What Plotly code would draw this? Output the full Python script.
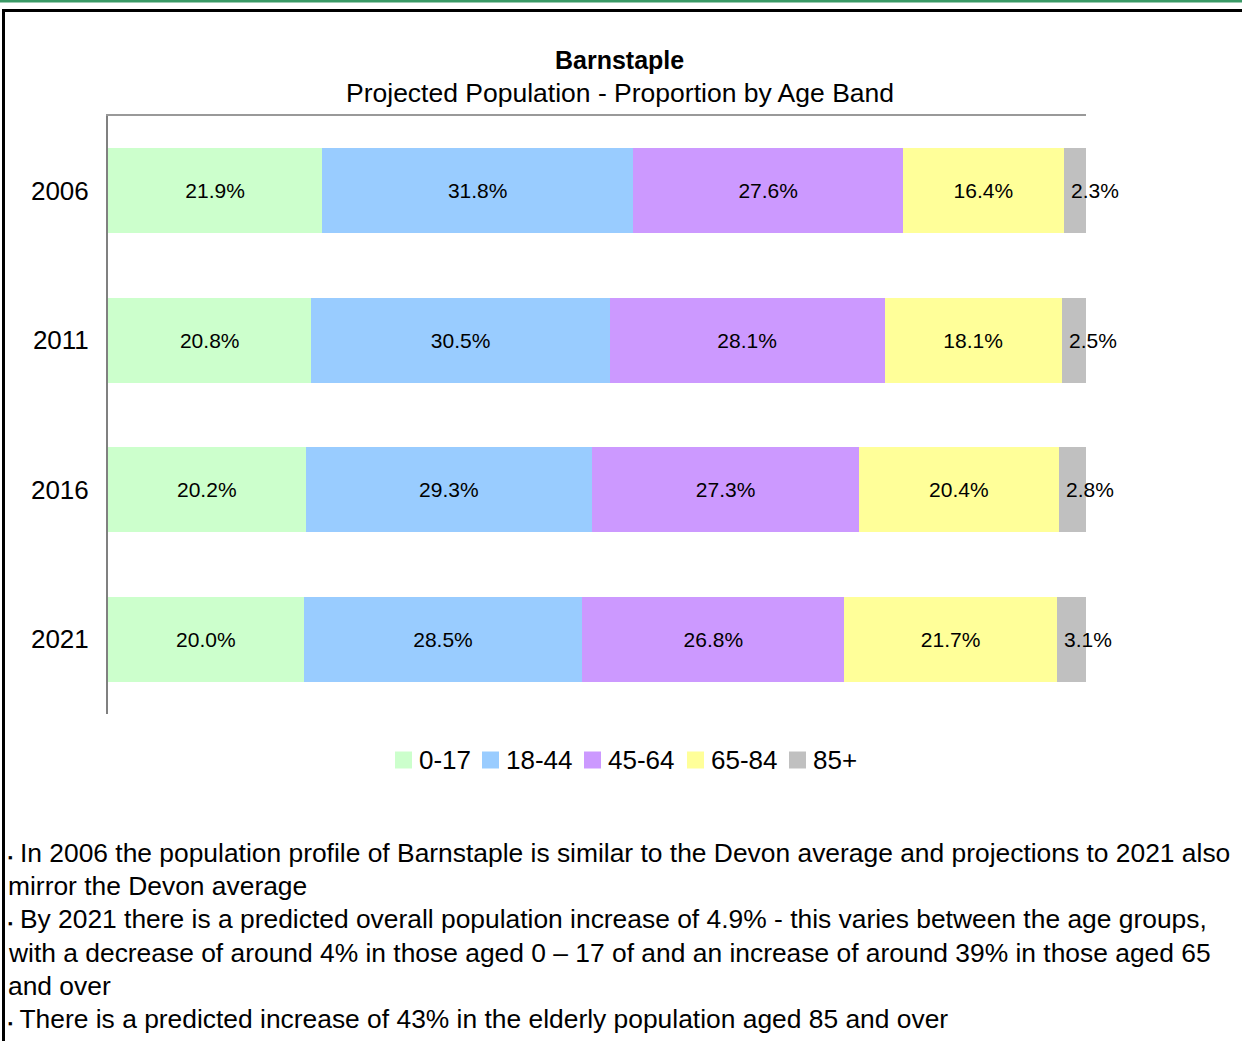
import plotly.graph_objects as go

years = ["2006", "2011", "2016", "2021"]
bands = ["0-17", "18-44", "45-64", "65-84", "85+"]
values = {
    "0-17": [21.9, 20.8, 20.2, 20.0],
    "18-44": [31.8, 30.5, 29.3, 28.5],
    "45-64": [27.6, 28.1, 27.3, 26.8],
    "65-84": [16.4, 18.1, 20.4, 21.7],
    "85+": [2.3, 2.5, 2.8, 3.1],
}
colors = ["#CCFFCC", "#99CCFF", "#CC99FF", "#FFFF99", "#C0C0C0"]
title = "Barnstaple"
subtitle = "Projected Population - Proportion by Age Band"
bullet = "<span style='font-size:13px'>▪</span>"
notes = [
    bullet + " In 2006 the population profile of Barnstaple is similar to the Devon average and projections to 2021 also",
    "mirror the Devon average",
    bullet + " By 2021 there is a predicted overall population increase of 4.9% - this varies between the age groups,",
    "with a decrease of around 4% in those aged 0 – 17 of and an increase of around 39% in those aged 65",
    "and over",
    bullet + " There is a predicted increase of 43% in the elderly population aged 85 and over",
]

# layout constants (pixels in the 1242x1041 page)
W, H = 1242, 1041
L, R, T, B = 108, 1086, 116, 714
FONT = "Liberation Sans, Arial, sans-serif"
LEGEND_SWATCH_X = [395, 482, 584, 687, 789]
LEGEND_Y = 760
SWATCH = 17
NOTE_Y = [853, 886, 919, 953, 986, 1019]


def px(x):
    return (x - L) / (R - L)


def py(y):
    return (B - y) / (B - T)


fig = go.Figure()
for band, col in zip(bands, colors):
    last = band == "85+"
    fig.add_trace(go.Bar(
        y=years, x=values[band], name=band, orientation="h",
        marker=dict(color=col, line=dict(width=0)),
        text=None if last else [f"{v:.1f}%" for v in values[band]],
        textposition="none" if last else "inside",
        insidetextanchor="middle",
        textfont=dict(family=FONT, size=21, color="black"),
        constraintext="none",
        hoverinfo="x+name",
        showlegend=False,
    ))

annotations = []
shapes = []
# labels for the small 85+ segment
for i, yr in enumerate(years):
    start = sum(values[b][i] for b in bands[:-1])
    annotations.append(dict(
        x=start, y=i, xref="x", yref="y", text=f"{values['85+'][i]:.1f}%",
        showarrow=False, xanchor="left", xshift=5,
        font=dict(family=FONT, size=21, color="black"),
    ))

annotations.append(dict(x=px(619), y=py(60), xref="paper", yref="paper", text=f"<b>{title}</b>",
                        showarrow=False, xanchor="center", yanchor="middle",
                        font=dict(family=FONT, size=25, color="black")))
annotations.append(dict(x=px(620), y=py(93), xref="paper", yref="paper", text=subtitle,
                        showarrow=False, xanchor="center", yanchor="middle",
                        font=dict(family=FONT, size=26.5, color="black")))

for t, yy in zip(notes, NOTE_Y):
    annotations.append(dict(x=px(6), y=py(yy), xref="paper", yref="paper", text=t,
                            showarrow=False, xanchor="left", yanchor="middle",
                            font=dict(family=FONT, size=26.4, color="black")))

# custom legend
for band, col, sx in zip(bands, colors, LEGEND_SWATCH_X):
    shapes.append(dict(type="rect", xref="paper", yref="paper",
                       x0=px(sx), x1=px(sx + SWATCH),
                       y0=py(LEGEND_Y - SWATCH / 2), y1=py(LEGEND_Y + SWATCH / 2),
                       fillcolor=col, line=dict(width=0)))
    annotations.append(dict(x=px(sx + SWATCH + 5), y=py(LEGEND_Y), xref="paper", yref="paper",
                            text=band, showarrow=False, xanchor="left", yanchor="middle",
                            font=dict(family=FONT, size=26, color="black")))

shapes += [
    dict(type="rect", xref="paper", yref="paper", x0=px(0), x1=px(W), y0=py(0), y1=py(2.5),
         fillcolor="#3A9A66", line=dict(width=0), layer="above"),
    dict(type="rect", xref="paper", yref="paper", x0=px(2), x1=px(W), y0=py(9), y1=py(12),
         fillcolor="black", line=dict(width=0), layer="above"),
    dict(type="rect", xref="paper", yref="paper", x0=px(2), x1=px(5), y0=py(9), y1=py(H),
         fillcolor="black", line=dict(width=0), layer="above"),
]

fig.update_layout(
    width=W, height=H,
    margin=dict(l=L, r=W - R, t=T, b=H - B, pad=0),
    paper_bgcolor="white", plot_bgcolor="white",
    barmode="stack", bargap=0.43,
    showlegend=False,
    xaxis=dict(range=[0, 100], side="top", showline=True, linecolor="#999999", linewidth=2,
               showgrid=False, zeroline=False, showticklabels=False, ticks="", fixedrange=True),
    yaxis=dict(type="category", range=[len(years) - 0.5, -0.5], autorange=False,
               showline=True, linecolor="#808080", linewidth=2,
               showgrid=False, ticks="", ticklabelstandoff=12,
               tickfont=dict(family=FONT, size=26, color="black"), fixedrange=True),
    annotations=annotations,
    shapes=shapes,
    uniformtext=dict(mode=False),
    font=dict(family=FONT, color="black"),
)

fig.write_html("out.html", config={"displayModeBar": False},
               post_script="document.body.style.margin='0';document.documentElement.style.margin='0';")
